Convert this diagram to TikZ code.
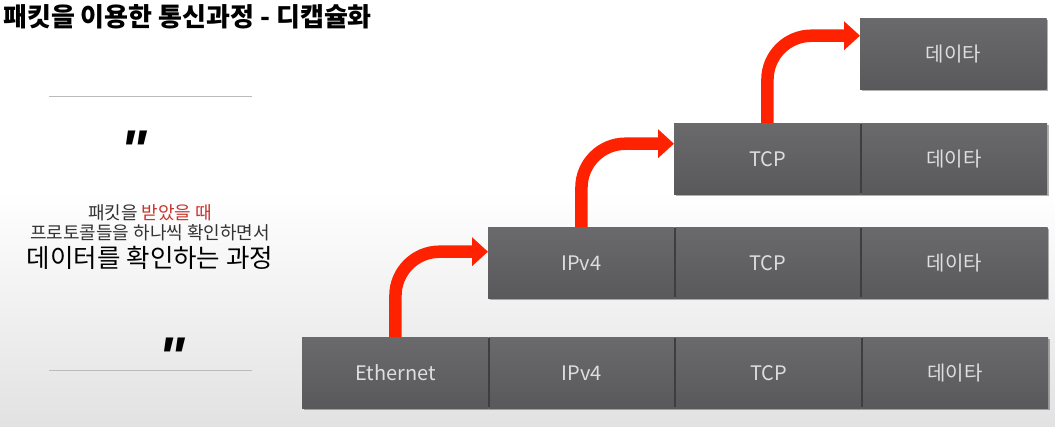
\documentclass[tikz,border=0pt]{standalone}
\usepackage{fontspec}
\setmainfont{Noto Sans CJK KR}
\newfontfamily\quotefont{Liberation Sans}
\usetikzlibrary{arrows.meta,shadows}
\definecolor{boxtop}{HTML}{6A6A6D}
\definecolor{boxbot}{HTML}{59595B}
\definecolor{boxtext}{HTML}{DEDEDE}
\definecolor{divcol}{HTML}{3E3E40}
\definecolor{arrowred}{HTML}{FF2200}
\definecolor{rulecol}{HTML}{BBBBBB}
\definecolor{textred}{HTML}{C8342C}
\definecolor{textgray}{HTML}{333333}
\definecolor{bgbot}{HTML}{E2E2E2}
\begin{document}
\begin{tikzpicture}[x=1pt,y=-1pt,
  cell/.style={minimum width=186.5pt, minimum height=71pt, inner sep=0pt, anchor=north west,
    top color=boxtop, bottom color=boxbot, draw=none, text=boxtext,
    font=\fontsize{20}{24}\selectfont,
    drop shadow={shadow xshift=1.5pt, shadow yshift=-1.5pt, opacity=0.3, fill=black}},
  divider/.style={draw=divcol, line width=2pt},
  redarrow/.style={draw=arrowred, line width=12.5pt, rounded corners=44pt,
    -{Triangle[length=16pt,width=28pt]}},
  rulestyle/.style={draw=rulecol, line width=1pt},
  quotemark/.style={font=\quotefont\bfseries\itshape\fontsize{56}{56}\selectfont, inner sep=0pt}]
\useasboundingbox (0,0) rectangle (1055,426);
\fill[white] (0,0) rectangle (1055,426);
\shade[top color=white, bottom color=bgbot] (0,190) rectangle (1055,426);

% title
\node[anchor=west, inner sep=0pt, font=\bfseries\fontsize{26}{28}\selectfont] (title) at (3,17) {패킷을 이용한 통신과정 - 디캡슐화};

% left panel
\draw[rulestyle] (49,96) -- (252,96);
\draw[rulestyle] (49,370) -- (252,370);
\node[quotemark] (q1) at (134,150) {"};
\node[quotemark] (q2) at (172,357) {"};
\node[text=textgray, font=\fontsize{18}{20}\selectfont, inner sep=0pt] (t1) at (150,213) {패킷을 \textcolor{textred}{받았을 때}};
\node[text=textgray, font=\fontsize{18}{20}\selectfont, inner sep=0pt] (t2) at (150,233) {프로토콜들을 하나씩 확인하면서};
\node[text=black, font=\fontsize{25.5}{28}\selectfont, inner sep=0pt] (t3) at (150,258) {데이터를 확인하는 과정};

% row A
\node[cell] (a1) at (302,337) {Ethernet};
\node[cell] (a2) at (488.5,337) {IPv4};
\node[cell] (a3) at (675,337) {TCP};
\node[cell] (a4) at (861.5,337) {데이타};
% row B
\node[cell] (b1) at (488,227) {IPv4};
\node[cell] (b2) at (674.5,227) {TCP};
\node[cell] (b3) at (861,227) {데이타};
% row C
\node[cell] (c1) at (674,123) {TCP};
\node[cell] (c2) at (860.5,123) {데이타};
% row D
\node[cell] (d1) at (860,18) {데이타};

% dividers
\foreach \n in {a1,a2,a3,b1,b2,c1}{
  \draw[divider] ([yshift=-1pt]\n.north east) -- ([yshift=1pt]\n.south east);
}

% arrows
\draw[redarrow] (a1.north) |- ([yshift=11pt]b1.west);
\draw[redarrow] (b1.north) |- ([yshift=15pt]c1.west);
\draw[redarrow] (c1.north) |- ([yshift=18pt]d1.west);
\end{tikzpicture}
\end{document}
